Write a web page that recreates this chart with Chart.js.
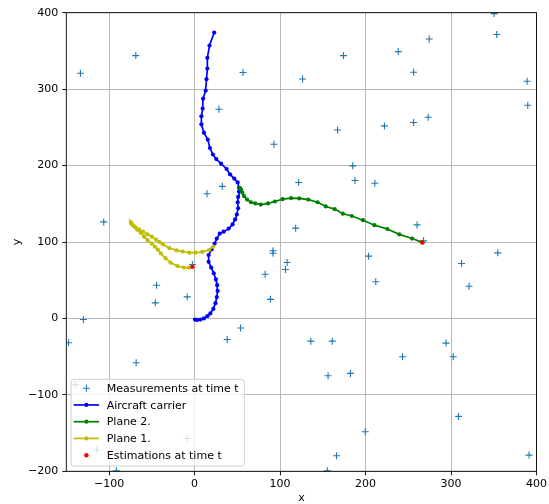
<!DOCTYPE html>
<html>
<head>
<meta charset="utf-8">
<script src="https://cdn.jsdelivr.net/npm/chart.js@4"></script>
<style>
html,body{margin:0;padding:0;background:#fff;}
#wrap{width:549px;height:504px;}
</style>
</head>
<body>
<div id="wrap"><canvas id="c" width="549" height="504"></canvas></div>
<script>
const xTicks = [-100, 0, 100, 200, 300, 400];
const yTicks = [-200, -100, 0, 100, 200, 300, 400];

const measurements = [
  [-133.5, 320.8], [-68.7, 343.9], [56.7, 321.7], [28.5, 273.7], [92.9, 227.9],
  [14.6, 163.2], [32.5, 172.8], [-106.2, 126.3], [350.5, 398.8], [353.5, 371.4],
  [274.5, 365.6], [238.3, 349.1], [174.2, 343.9], [256.3, 322.1], [126.4, 313.3],
  [389, 310.3], [389.8, 279], [273.3, 263.2], [256.3, 256.3], [222.1, 251.9],
  [167.3, 246.6], [185.1, 199.6], [187.7, 180.5], [210.9, 176.9], [121.8, 177.8],
  [118.3, 118.1], [260.3, 122.4], [267.9, 101.5], [354.7, 85.8], [91.8, 88.5],
  [91.8, 85.3], [108.3, 73.2], [106.4, 64.1], [82.6, 57.8], [88.8, 25],
  [203.6, 81.5], [212, 47.9], [312.3, 71.9], [321.1, 42.2], [136, -29.7],
  [161.1, -29.7], [294.2, -32.3], [302.6, -50.2], [243.3, -50.2], [156.2, -75],
  [182.3, -71.9], [308.9, -128.2], [199.7, -148.3], [166.1, -179.7], [391.3, -178.8],
  [155.3, -199.3], [-130, -1.3], [-147.4, -31.9], [-44.4, 43.5], [-45.9, 20.4],
  [-8.6, 28.2], [-68.3, -58], [-139.3, -86.8], [-8.6, -157], [-114.5, -172.2],
  [-91.4, -199.3], [38.2, -27.5], [53.9, -12.5], [-2.5, 70.5]
];

const carrier = [
  [0.5, -1.5], [3, -2], [7, -1.5], [11, 0], [15, 3], [18.5, 6.5], [22, 12.5], [24.5, 20],
  [26, 28], [27, 36], [26.5, 43.5], [25, 51], [22.5, 59], [19.5, 66.5], [16.5, 74],
  [16.5, 83], [20, 90.5], [23.5, 98], [26, 104.5], [29.5, 111], [34, 113.5], [40, 117.5],
  [44.5, 123], [47.5, 129.5], [49.5, 136], [51, 144], [50.5, 152], [51, 159], [52, 166],
  [52, 171], [50.5, 178], [46.5, 183], [41.5, 188.5], [37.5, 195.5], [31, 202.5],
  [25.5, 208.5], [21.5, 214.5], [18, 223], [15.5, 234], [11, 243], [8, 254], [8, 264.5],
  [9.5, 274.5], [10, 287.5], [13, 298], [14, 313], [15, 327], [15, 341], [17.5, 357], [23, 374]
];

const plane2 = [
  [53, 171], [54.5, 168.5], [56, 164.5], [58, 160], [61.5, 155.5], [66, 152], [71, 150.5],
  [77.5, 149], [86, 150.5], [94, 153], [103, 156], [113, 157.5], [122.5, 157], [133, 155.5],
  [144, 152], [153.5, 146.5], [164, 143], [173.5, 137], [184, 134], [197, 128.5],
  [210.5, 122], [225.5, 117], [239.5, 110], [254.5, 104.5], [266.5, 99.5]
];

const plane1 = [
  [22, 94], [17, 89.5], [9, 87], [1, 86], [-6, 86], [-14, 87.5], [-21, 89], [-29.5, 92],
  [-37, 97], [-41, 100], [-45, 103], [-50, 107], [-55, 110], [-60, 113.5], [-65, 116.5],
  [-69, 119], [-72, 121.5], [-74, 124], [-74.5, 126], [-73, 123.5], [-70, 120], [-67, 116],
  [-63, 112], [-59, 107], [-55, 102.5], [-50, 98], [-46.5, 94], [-43, 90], [-39.5, 85],
  [-34, 79], [-28, 73], [-20, 68.5], [-12.5, 66.5], [-6.5, 66.5], [-2.5, 67.5]
];

const estimations = [[-2.5, 67.5], [266.5, 99.5]];

const labels = ['Measurements at time t', 'Aircraft carrier', 'Plane 2.', 'Plane 1.', 'Estimations at time t'];

const FONT = "'DejaVu Sans', sans-serif";
const toXY = arr => arr.map(p => ({x: p[0], y: p[1]}));
const fmt = v => (v < 0 ? '\u2212' + Math.abs(v) : String(v));

function lineSet(label, data, color, order) {
  return {
    label, data: toXY(data), showLine: true, borderColor: color, backgroundColor: color,
    borderWidth: 1.7, pointRadius: 2.1, pointHoverRadius: 2.1, pointBackgroundColor: color,
    pointBorderWidth: 0, tension: 0, clip: 0, order, _kind: 'line'
  };
}

const datasets = [
  {label: labels[0], data: toXY(measurements), showLine: false, pointStyle: 'cross',
   pointRadius: 3.5, pointHoverRadius: 3.5, pointBorderColor: '#1f77b4', pointBorderWidth: 1.1,
   borderColor: '#1f77b4', backgroundColor: '#1f77b4', clip: 0, order: 5, _kind: 'cross'},
  lineSet(labels[1], carrier, '#0000ff', 4),
  lineSet(labels[2], plane2, '#008000', 3),
  lineSet(labels[3], plane1, '#bfbf00', 2),
  {label: labels[4], data: toXY(estimations), showLine: false, pointRadius: 2.2, pointHoverRadius: 2.2,
   pointBackgroundColor: '#ff0000', pointBorderWidth: 0, borderColor: '#ff0000', backgroundColor: '#ff0000',
   clip: 0, order: 1, _kind: 'dot'}
];

const framePlugin = {
  id: 'frameAndLegend',
  afterDraw(chart) {
    const ctx = chart.ctx;
    const a = chart.chartArea;
    ctx.save();
    ctx.strokeStyle = '#000';
    ctx.lineWidth = 0.9;
    ctx.strokeRect(a.left, a.top, a.right - a.left, a.bottom - a.top);

    // legend
    const bx = 71, by = 379.3, bw = 173.3, bh = 86.7, r = 3;
    ctx.beginPath();
    ctx.moveTo(bx + r, by);
    ctx.lineTo(bx + bw - r, by); ctx.quadraticCurveTo(bx + bw, by, bx + bw, by + r);
    ctx.lineTo(bx + bw, by + bh - r); ctx.quadraticCurveTo(bx + bw, by + bh, bx + bw - r, by + bh);
    ctx.lineTo(bx + r, by + bh); ctx.quadraticCurveTo(bx, by + bh, bx, by + bh - r);
    ctx.lineTo(bx, by + r); ctx.quadraticCurveTo(bx, by, bx + r, by);
    ctx.closePath();
    ctx.fillStyle = 'rgba(255,255,255,0.8)';
    ctx.fill();
    ctx.strokeStyle = '#cccccc';
    ctx.lineWidth = 0.9;
    ctx.stroke();

    const rowY0 = 388.2, rowStep = 16.75;
    const hx0 = 73.7, hx1 = 99, hc = 86.4, tx = 106.7;
    ctx.font = '11px ' + FONT;
    ctx.textBaseline = 'alphabetic';
    ctx.textAlign = 'left';
    datasets.forEach((ds, i) => {
      const y = rowY0 + i * rowStep;
      const col = ds.borderColor;
      if (ds._kind === 'cross') {
        ctx.strokeStyle = col; ctx.lineWidth = 1.1;
        ctx.beginPath();
        ctx.moveTo(hc - 3.5, y); ctx.lineTo(hc + 3.5, y);
        ctx.moveTo(hc, y - 3.5); ctx.lineTo(hc, y + 3.5);
        ctx.stroke();
      } else if (ds._kind === 'line') {
        ctx.strokeStyle = col; ctx.lineWidth = 1.7;
        ctx.beginPath(); ctx.moveTo(hx0, y); ctx.lineTo(hx1, y); ctx.stroke();
        ctx.fillStyle = col;
        ctx.beginPath(); ctx.arc(hc, y, 2.1, 0, Math.PI * 2); ctx.fill();
      } else {
        ctx.fillStyle = col;
        ctx.beginPath(); ctx.arc(hc, y, 2.2, 0, Math.PI * 2); ctx.fill();
      }
      ctx.fillStyle = '#000';
      ctx.fillText(ds.label, tx, y + 3.7);
    });
    ctx.restore();
  }
};

const tickFont = {family: FONT, size: 11};

new Chart(document.getElementById('c'), {
  type: 'scatter',
  data: {datasets},
  options: {
    responsive: false,
    devicePixelRatio: 1,
    animation: false,
    events: [],
    layout: {padding: {top: 12.7, right: 7.3, left: 0, bottom: 0}},
    plugins: {legend: {display: false}, tooltip: {enabled: false}},
    scales: {
      x: {
        type: 'linear', min: -150, max: 400,
        afterBuildTicks: s => { s.ticks = xTicks.map(v => ({value: v})); },
        afterFit: s => { s.height = 32.7; },
        ticks: {callback: v => fmt(v), font: tickFont, color: '#000', padding: 2, maxRotation: 0, autoSkip: false},
        grid: {color: '#b0b0b0', lineWidth: 0.9, tickLength: 4, tickColor: '#000', tickWidth: 0.9},
        border: {display: false},
        title: {display: true, text: 'x', font: {family: FONT, size: 11, lineHeight: 1}, color: '#000', padding: {top: 0, bottom: 0}}
      },
      y: {
        type: 'linear', min: -200, max: 400,
        afterBuildTicks: s => { s.ticks = yTicks.map(v => ({value: v})); },
        afterFit: s => { s.width = 66.3; },
        ticks: {callback: v => fmt(v), font: tickFont, color: '#000', padding: 4, autoSkip: false},
        grid: {color: '#b0b0b0', lineWidth: 0.9, tickLength: 4, tickColor: '#000', tickWidth: 0.9},
        border: {display: false},
        title: {display: true, text: 'y', font: {family: FONT, size: 11, lineHeight: 1}, color: '#000', padding: {top: 11.5, bottom: 0}}
      }
    }
  },
  plugins: [framePlugin]
});
</script>
</body>
</html>
